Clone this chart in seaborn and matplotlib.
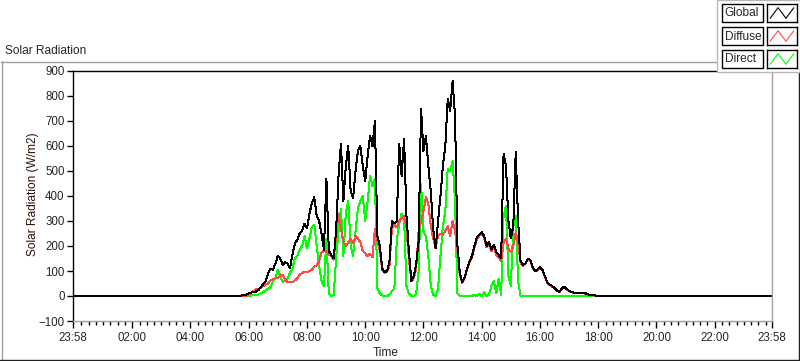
import numpy as np
import pandas as pd
import matplotlib
matplotlib.use("Agg")
import matplotlib.pyplot as plt
from matplotlib.lines import Line2D
from matplotlib.patches import Rectangle
import seaborn as sns

# readings every 5 minutes from 05:30 to 18:10 (W/m2), zero the rest of the day
start_hour = 5.5
step_hours = 5 / 60
day_start = -2 / 60          # 23:58 the day before
day_end = 24 - 2 / 60        # 23:58

global_rad = [
    0, 0, 0, 2, 4, 6, 10, 14, 16, 18,
    24, 36, 48, 60, 90, 110, 105, 130, 160, 150,
    125, 135, 130, 112, 165, 210, 225, 250, 260, 290,
    270, 330, 370, 395, 320, 300, 250, 185, 470, 180,
    165, 150, 260, 480, 610, 380, 520, 600, 420, 390,
    500, 580, 600, 520, 460, 560, 640, 600, 700, 240,
    200, 110, 95, 100, 140, 300, 290, 300, 610, 480,
    630, 320, 180, 60, 80, 130, 220, 750, 580, 640,
    520, 420, 270, 190, 300, 400, 520, 600, 790, 740,
    860, 720, 200, 90, 55, 75, 110, 140, 160, 200,
    235, 245, 255, 240, 200, 215, 185, 205, 175, 165,
    150, 570, 520, 300, 230, 280, 575, 300, 140, 125,
    130, 150, 145, 115, 100, 105, 115, 105, 80, 55,
    45, 40, 32, 22, 16, 30, 38, 28, 20, 16,
    14, 12, 12, 14, 12, 10, 6, 4, 4, 2,
    0, 0, 0,
]
diffuse_rad = [
    0, 0, 0, 0, 0, 2, 6, 12, 20, 26,
    28, 32, 40, 46, 50, 62, 68, 72, 70, 82,
    84, 65, 56, 58, 56, 62, 70, 85, 92, 98,
    96, 100, 105, 118, 122, 140, 175, 180, 180, 165,
    160, 145, 240, 330, 270, 220, 200, 215, 230, 210,
    240, 230, 215, 180, 170, 160, 170, 155, 270, 220,
    180, 105, 92, 98, 120, 270, 285, 275, 300, 310,
    320, 270, 150, 58, 70, 110, 260, 300, 340, 395,
    370, 280, 230, 190, 240, 250, 245, 260, 280, 240,
    300, 260, 180, 80, 53, 72, 107, 135, 155, 195,
    225, 240, 250, 232, 195, 205, 180, 195, 165, 155,
    140, 210, 230, 190, 175, 200, 255, 210, 132, 120,
    128, 148, 143, 112, 98, 103, 113, 102, 78, 53,
    44, 38, 30, 21, 15, 28, 36, 27, 19, 15,
    13, 11, 11, 13, 11, 9, 5, 3, 3, 1,
    0, 0, 0,
]
direct_rad = [
    0, 0, 0, 0, 0, 0, 1, 2, 3, 4,
    6, 10, 16, 22, 30, 35, 60, 72, 105, 80,
    55, 65, 70, 92, 110, 150, 160, 185, 200, 240,
    190, 230, 275, 285, 200, 120, 60, 40, 230, 10,
    0, 5, 150, 260, 350, 160, 330, 380, 200, 160,
    260, 350, 380, 400, 300, 380, 480, 440, 470, 30,
    10, 2, 0, 0, 5, 20, 30, 220, 290, 330,
    310, 40, 10, 0, 0, 10, 100, 450, 260, 240,
    160, 40, 5, 0, 30, 160, 280, 340, 510, 500,
    540, 380, 10, 0, 0, 0, 2, 0, 0, 5,
    0, 8, 0, 15, 0, 5, 40, 60, 10, 70,
    5, 320, 360, 80, 40, 280, 320, 60, 0, 0,
    0, 0, 0, 0, 0, 0, 0, 0, 0, 0,
    0, 0, 0, 0, 0, 0, 0, 0, 0, 0,
    0, 0, 0, 0, 0, 0, 0, 0, 0, 0,
    0, 0, 0,
]

series_names = ["Global", "Diffuse", "Direct"]
series_colors = {"Global": "#000000", "Diffuse": "#ff4848", "Direct": "#00ff00"}

x_tick_pos = [day_start, 2, 4, 6, 8, 10, 12, 14, 16, 18, 20, 22, day_end]
x_tick_labels = ["23:58", "02:00", "04:00", "06:00", "08:00", "10:00", "12:00",
                 "14:00", "16:00", "18:00", "20:00", "22:00", "23:58"]
y_ticks = list(range(-100, 901, 100))

# build long table
grid = start_hour + np.arange(len(global_rad)) * step_hours
hours = [day_start] + list(grid) + [day_end]
rows = []
for name, vals in zip(series_names, [global_rad, diffuse_rad, direct_rad]):
    for h, v in zip(hours, [0] + vals + [0]):
        rows.append({"hour": h, "value": v, "series": name})
df = pd.DataFrame(rows)

sns.set_style("white")
plt.rcParams["font.family"] = ["Liberation Sans", "DejaVu Sans"]

W, H = 800, 361
fig = plt.figure(figsize=(8, 3.61), dpi=100)


def fr(x0, y0, w, h):
    # pixel box (top-left origin) -> figure fraction
    return [x0 / W, 1 - (y0 + h) / H, w / W, h / H]


ax = fig.add_axes(fr(73, 71, 699, 250))
# Global on top, Direct at the bottom
sns.lineplot(data=df, x="hour", y="value", hue="series",
             hue_order=["Direct", "Diffuse", "Global"], palette=series_colors,
             estimator=None, sort=False, linewidth=0.72, legend=False, ax=ax)
for ln in ax.get_lines():
    ln.set_antialiased(False)

ax.set_xlim(day_start, day_end)
ax.set_ylim(-100, 900)
ax.set_xticks(x_tick_pos)
ax.set_xticklabels(x_tick_labels)
minor = [m for m in np.arange(0.25, 23.9, 0.25) if m % 2 != 0]
ax.set_xticks(minor, minor=True)
ax.set_yticks(y_ticks)
ax.set_xlabel("")
ax.set_ylabel("")
ax.tick_params(axis="x", which="major", length=5, width=1, color="black",
               pad=3, labelsize=8.3, bottom=True)
ax.tick_params(axis="x", which="minor", length=3, width=1, color="black", bottom=True)
ax.tick_params(axis="y", which="major", length=4, width=1, color="black",
               pad=2, labelsize=8.3, left=True)
for s in ["left", "top"]:
    ax.spines[s].set_color("black")
    ax.spines[s].set_linewidth(1)
for s in ["bottom", "right"]:
    ax.spines[s].set_color("#a0a0a0")
    ax.spines[s].set_linewidth(1)

fig.text(5 / W, 1 - 51 / H, "Solar Radiation", fontsize=8.6, va="center", ha="left")
fig.text(33 / W, 1 - 194 / H, "Solar Radiation (W/m2)", fontsize=8.6,
         rotation=90, va="center", ha="center", color="#2a1208")
fig.text(386 / W, 1 - 353 / H, "Time", fontsize=8.6, va="center", ha="center")

# outer panel frame
def hline(x0, x1, y, c):
    fig.add_artist(Line2D([x0 / W, x1 / W], [1 - y / H, 1 - y / H], color=c, lw=1))

def vline(x, y0, y1, c):
    fig.add_artist(Line2D([x / W, x / W], [1 - y0 / H, 1 - y1 / H], color=c, lw=1))

hline(1, 717, 61.5, "#a0a0a0")
vline(1.5, 61, 360, "#a0a0a0")
hline(0, 800, 359.5, "#202020")
vline(798.5, 72, 360, "#202020")

# legend panel
fig.add_artist(Rectangle((717 / W, 1 - 72 / H), 83 / W, 72 / H, transform=fig.transFigure,
                         facecolor="white", edgecolor="#b8b8b8", lw=1, zorder=5))
row_tops = [4, 27, 50]
for name, y0 in zip(series_names, row_tops):
    fig.add_artist(Rectangle((722 / W, 1 - (y0 + 18) / H), 41 / W, 18 / H,
                             transform=fig.transFigure, facecolor="white",
                             edgecolor="black", lw=1, zorder=6))
    fig.text(724.5 / W, 1 - (y0 + 9.5) / H, name, fontsize=8.6, va="center",
             ha="left", zorder=7)
    sax = fig.add_axes(fr(767, y0, 30, 18))
    sax.set_zorder(10)
    sax.plot([0, 1, 2, 3], [0, 1, 0, 1], color=series_colors[name], lw=0.8)
    sax.set_xlim(-0.4, 3.4)
    sax.set_ylim(-0.35, 1.35)
    sax.set_xticks([])
    sax.set_yticks([])
    for s in sax.spines.values():
        s.set_color("black")
        s.set_linewidth(1)

fig.savefig("out.png", dpi=100)
